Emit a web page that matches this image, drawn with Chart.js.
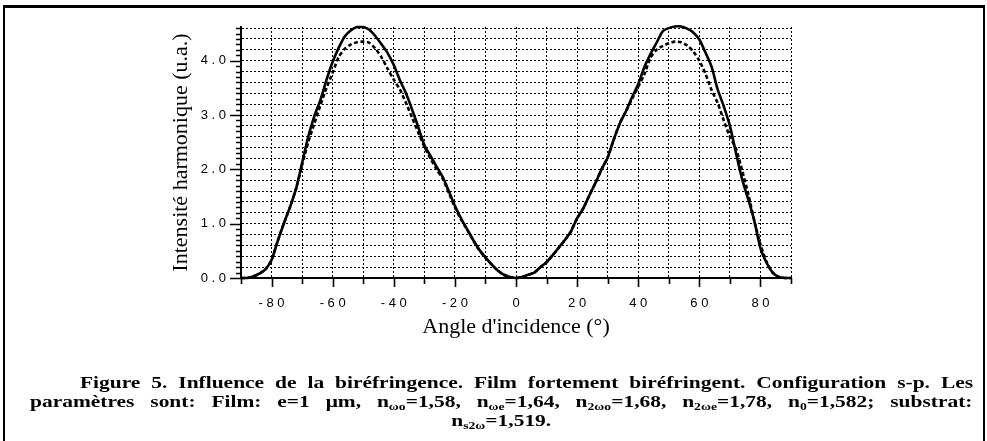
<!DOCTYPE html>
<html lang="fr">
<head>
<meta charset="utf-8">
<script src="https://cdn.jsdelivr.net/npm/chart.js@4/dist/chart.umd.min.js"></script>
<style>
  html, body { margin: 0; padding: 0; background: #fff; }
  body { width: 987px; height: 441px; position: relative; overflow: hidden; }
  #frame {
    position: absolute; left: 3px; top: 5px; width: 978px; height: 440px;
    border-top: 3px solid #000; border-left: 2px solid #000; border-right: 2px solid #000;
  }
  #chart { position: absolute; left: 0; top: 0; }
  #caption {
    position: absolute; left: 30px; width: 943px; top: 373px;
    font-family: "Liberation Serif", "Times New Roman", serif;
    font-weight: bold; font-size: 16.5px; line-height: 19px; color: #000;
  }
  #caption div {
    white-space: nowrap; text-align: justify; text-align-last: justify;
    transform: scaleX(1.3); transform-origin: 0 0; width: 725px;
  }
  #caption div.first { margin-left: 50px; width: 687px; }
  #caption div.last { text-align: center; text-align-last: center; }
  #caption sub { font-size: 10.5px; vertical-align: -3px; line-height: 0; }
</style>
</head>
<body>
<div id="frame"></div>
<canvas id="chart" width="987" height="441"></canvas>
<div id="caption">
  <div class="first">Figure 5. Influence de la biréfringence. Film fortement biréfringent. Configuration s-p. Les</div>
  <div>paramètres sont: Film: e=1 μm, n<sub>ωo</sub>=1,58, n<sub>ωe</sub>=1,64, n<sub>2ωo</sub>=1,68, n<sub>2ωe</sub>=1,78, n<sub>0</sub>=1,582; substrat:</div>
  <div class="last">n<sub>s2ω</sub>=1,519.</div>
</div>
<script>
// Angle d'incidence (degrés)
const angles = [
  -90, -88, -86, -84, -82, -80, -78, -76, -74, -72, -70, -68, -66, -64, -62, -60,
  -58, -56, -54, -52, -50, -48, -46, -44, -42, -40, -38, -36, -34, -32, -30, -28,
  -26, -24, -22, -20, -18, -16, -14, -12, -10, -8, -6, -4, -2, 0,
  2, 4, 6, 8, 10, 12, 14, 16, 18, 20, 22, 24, 26, 28, 30, 32,
  34, 36, 38, 40, 42, 44, 46, 48, 50, 52, 54, 56, 58, 60, 62, 64,
  66, 68, 70, 72, 74, 76, 78, 80, 82, 84, 86, 88, 90
];

// Intensité harmonique, trait plein
const intensitySolid = [
  0.00, 0.00, 0.03, 0.08, 0.16, 0.33, 0.68, 1.00, 1.30, 1.64, 2.12, 2.60, 2.98, 3.28, 3.65, 3.98,
  4.24, 4.45, 4.56, 4.62, 4.62, 4.57, 4.45, 4.30, 4.14, 3.92, 3.64, 3.40, 3.10, 2.78, 2.45, 2.25,
  2.05, 1.86, 1.60, 1.33, 1.10, 0.90, 0.70, 0.52, 0.38, 0.25, 0.14, 0.06, 0.02, 0.00,
  0.02, 0.06, 0.10, 0.20, 0.29, 0.42, 0.56, 0.70, 0.86, 1.10, 1.28, 1.52, 1.75, 2.00, 2.22, 2.55,
  2.85, 3.07, 3.33, 3.57, 3.88, 4.12, 4.33, 4.54, 4.60, 4.63, 4.63, 4.59, 4.52, 4.39, 4.15, 3.89,
  3.47, 3.16, 2.80, 2.30, 1.82, 1.45, 1.05, 0.55, 0.28, 0.10, 0.02, 0.00, 0.00
];

// Intensité harmonique, pointillés
const intensityDashed = [
  0.00, 0.00, 0.03, 0.08, 0.16, 0.33, 0.68, 1.00, 1.30, 1.64, 2.08, 2.50, 2.84, 3.18, 3.50, 3.78,
  4.07, 4.22, 4.30, 4.34, 4.35, 4.33, 4.22, 4.06, 3.85, 3.65, 3.47, 3.22, 2.95, 2.68, 2.42, 2.20,
  2.00, 1.83, 1.57, 1.30, 1.08, 0.89, 0.69, 0.51, 0.37, 0.25, 0.14, 0.06, 0.02, 0.00,
  0.02, 0.06, 0.10, 0.20, 0.29, 0.42, 0.56, 0.70, 0.86, 1.10, 1.28, 1.52, 1.75, 2.00, 2.22, 2.55,
  2.85, 3.07, 3.30, 3.52, 3.75, 4.05, 4.20, 4.27, 4.32, 4.35, 4.34, 4.28, 4.17, 4.00, 3.76, 3.46,
  3.22, 2.90, 2.60, 2.38, 1.98, 1.55, 1.05, 0.62, 0.30, 0.10, 0.02, 0.00, 0.00
];

// Etiquettes des axes
const xTickLabels = ['-80', '-60', '-40', '-20', '0', '20', '40', '60', '80'];
const yTickLabels = ['0.0', '1.0', '2.0', '3.0', '4.0'];

const spaced = s => s.split('').join(' ');
const toPoints = vals => angles.map((a, i) => ({ x: a, y: vals[i] }));

// graduations dessinées à la main (majeures plus longues que les mineures)
const tickMarks = {
  id: 'tickMarks',
  afterDraw(chart) {
    const { ctx, chartArea, scales } = chart;
    ctx.save();
    ctx.strokeStyle = '#000';
    ctx.lineWidth = 1.6;
    ctx.beginPath();
    scales.y.ticks.forEach(t => {
      const y = Math.round(scales.y.getPixelForValue(t.value)) + 0.5;
      const len = Math.round(t.value * 10) % 10 === 0 ? 11 : 5;
      ctx.moveTo(chartArea.left, y);
      ctx.lineTo(chartArea.left - len, y);
    });
    scales.x.ticks.forEach(t => {
      const x = Math.round(scales.x.getPixelForValue(t.value)) + 0.5;
      const len = Math.round(t.value) % 20 === 0 ? 9 : 6;
      ctx.moveTo(x, chartArea.bottom);
      ctx.lineTo(x, chartArea.bottom + len);
    });
    ctx.stroke();
    ctx.restore();
  }
};

const ctx = document.getElementById('chart').getContext('2d');
const chart = new Chart(ctx, {
  type: 'line',
  data: {
    datasets: [
      {
        label: 'plein',
        data: toPoints(intensitySolid),
        borderColor: '#000',
        borderWidth: 2.6,
        pointRadius: 0,
        tension: 0.25,
        clip: false
      },
      {
        label: 'pointillé',
        data: toPoints(intensityDashed),
        borderColor: '#000',
        borderWidth: 2.6,
        borderDash: [4, 2.5],
        pointRadius: 0,
        tension: 0.25,
        clip: false
      }
    ]
  },
  options: {
    responsive: false,
    animation: false,
    layout: { padding: { left: 168, right: 196, top: 27, bottom: 97 } },
    plugins: { legend: { display: false }, tooltip: { enabled: false } },
    scales: {
      x: {
        type: 'linear',
        min: -90,
        max: 90,
        afterBuildTicks: scale => {
          const t = [];
          for (let v = -90; v <= 90; v += 10) t.push({ value: v });
          scale.ticks = t;
        },
        afterFit: scale => { scale.height = 66; },
        ticks: {
          autoSkip: false,
          maxRotation: 0,
          padding: 18,
          color: '#000',
          font: { family: '"Liberation Sans", Arial, sans-serif', size: 13 },
          callback: v => {
            const s = String(Math.round(v));
            return xTickLabels.includes(s) ? spaced(s) : '';
          }
        },
        grid: {
          drawTicks: false,
          lineWidth: 1,
          color: c => (c.tick && c.tick.value > -90) ? '#000' : 'rgba(0,0,0,0)'
        },
        border: { display: true, color: '#000', width: 2, dash: [2, 2] },
        title: {
          display: true,
          text: "Angle d'incidence (°)",
          color: '#000',
          font: { family: '"Liberation Serif", "Times New Roman", serif', size: 22 },
          padding: { top: 0, bottom: 4 }
        }
      },
      y: {
        type: 'linear',
        min: 0,
        max: 4.62,
        afterBuildTicks: scale => {
          const t = [];
          for (let i = 0; i <= 46; i++) t.push({ value: i / 10 });
          scale.ticks = t;
        },
        afterFit: scale => { scale.width = 73; },
        ticks: {
          autoSkip: false,
          padding: 15,
          color: '#000',
          font: { family: '"Liberation Sans", Arial, sans-serif', size: 13 },
          callback: v => {
            const s = (Math.round(v * 10) / 10).toFixed(1);
            return yTickLabels.includes(s) ? spaced(s) : '';
          }
        },
        grid: {
          drawTicks: false,
          lineWidth: 1,
          color: c => {
            const k = c.tick ? Math.round(c.tick.value * 10) : 0;
            return (k > 0 && k % 2 === 0) ? '#000' : 'rgba(0,0,0,0)';
          }
        },
        border: { display: true, color: '#000', width: 2, dash: [2, 2] },
        title: {
          display: true,
          text: 'Intensité harmonique (u.a.)',
          color: '#000',
          font: { family: '"Liberation Serif", "Times New Roman", serif', size: 22 },
          padding: { top: 0, bottom: 0 }
        }
      }
    }
  },
  plugins: [tickMarks]
});
</script>
</body>
</html>
